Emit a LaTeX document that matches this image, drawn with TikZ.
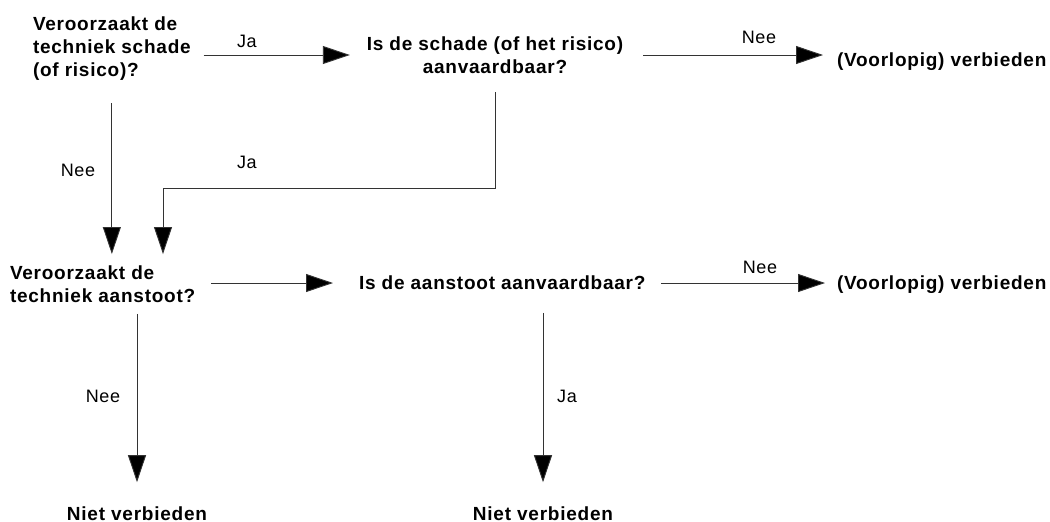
\documentclass[tikz,border=0pt]{standalone}
\usepackage{fontspec}
\setmainfont{Liberation Sans}
\newfontfamily\nodefont{Liberation Sans}[LetterSpace=4.0]
\newfontfamily\labfont{Liberation Sans}[LetterSpace=3.0]
\usetikzlibrary{arrows.meta,calc}
\tikzset{
  box/.style={inner sep=0pt, outer sep=0pt, font=\nodefont\bfseries\fontsize{19}{23}\selectfont},
  lab/.style={inner sep=0pt, anchor=base, font=\labfont\fontsize{18}{20}\selectfont},
  arr/.style={draw=black!80, line width=0.9pt, -{Triangle[length=27pt,width=18pt,fill=black]}}
}
\begin{document}
\begin{tikzpicture}[x=1pt,y=-1pt]
\useasboundingbox[fill=white] (0,0) rectangle (1050,522);
% nodes
\node[box, anchor=west, align=left] (A) at (33,48.5) {Veroorzaakt de\\techniek schade\\(of risico)?};
\node[box, anchor=center, align=center] (B) at (495,55) {Is de schade (of het risico)\\aanvaardbaar?};
\node[box, anchor=base west] (C) at (837,66) {(Voorlopig) verbieden};
\node[box, anchor=west, align=left] (D) at (10,284.5) {Veroorzaakt de\\techniek aanstoot?};
\node[box, anchor=west] (E) at (359,283) {Is de aanstoot aanvaardbaar?};
\node[box, anchor=base west] (F) at (837,289) {(Voorlopig) verbieden};
\node[box, anchor=base] (G) at (137,520) {Niet verbieden};
\node[box, anchor=base] (H) at (543,520) {Niet verbieden};
\coordinate (j) at (163,188);
% connectors
\draw[arr] ([xshift=13pt]A.east |- B.west) -- ([xshift=-17pt]B.west);
\draw[arr] ([xshift=20pt]B.east) -- ([xshift=-14pt]C.west |- B.east);
\draw[arr] ([yshift=-23pt]A.south) -- ([yshift=12pt]A.south |- D.north);
\draw[arr] ([yshift=-19pt]B.south) |- (j) -- ([yshift=12pt]j |- D.north);
\draw[arr] ([xshift=16pt]D.east |- E.west) -- ([xshift=-26pt]E.west);
\draw[arr] ([xshift=16pt]E.east) -- ([xshift=-12pt]F.west |- E.east);
\draw[arr] ([yshift=-11pt]D.south -| G.north) -- ([yshift=24pt]G.north);
\draw[arr] ([yshift=-23pt]E.south -| H.north) -- ([yshift=24pt]H.north);
% labels
\node[lab] (l1) at (247,47) {Ja};
\node[lab] (l2) at (759,43) {Nee};
\node[lab] (l3) at (78,176) {Nee};
\node[lab] (l4) at (247,168) {Ja};
\node[lab] (l5) at (760,273) {Nee};
\node[lab] (l6) at (103,402) {Nee};
\node[lab] (l7) at (567,402) {Ja};
\end{tikzpicture}
\end{document}
